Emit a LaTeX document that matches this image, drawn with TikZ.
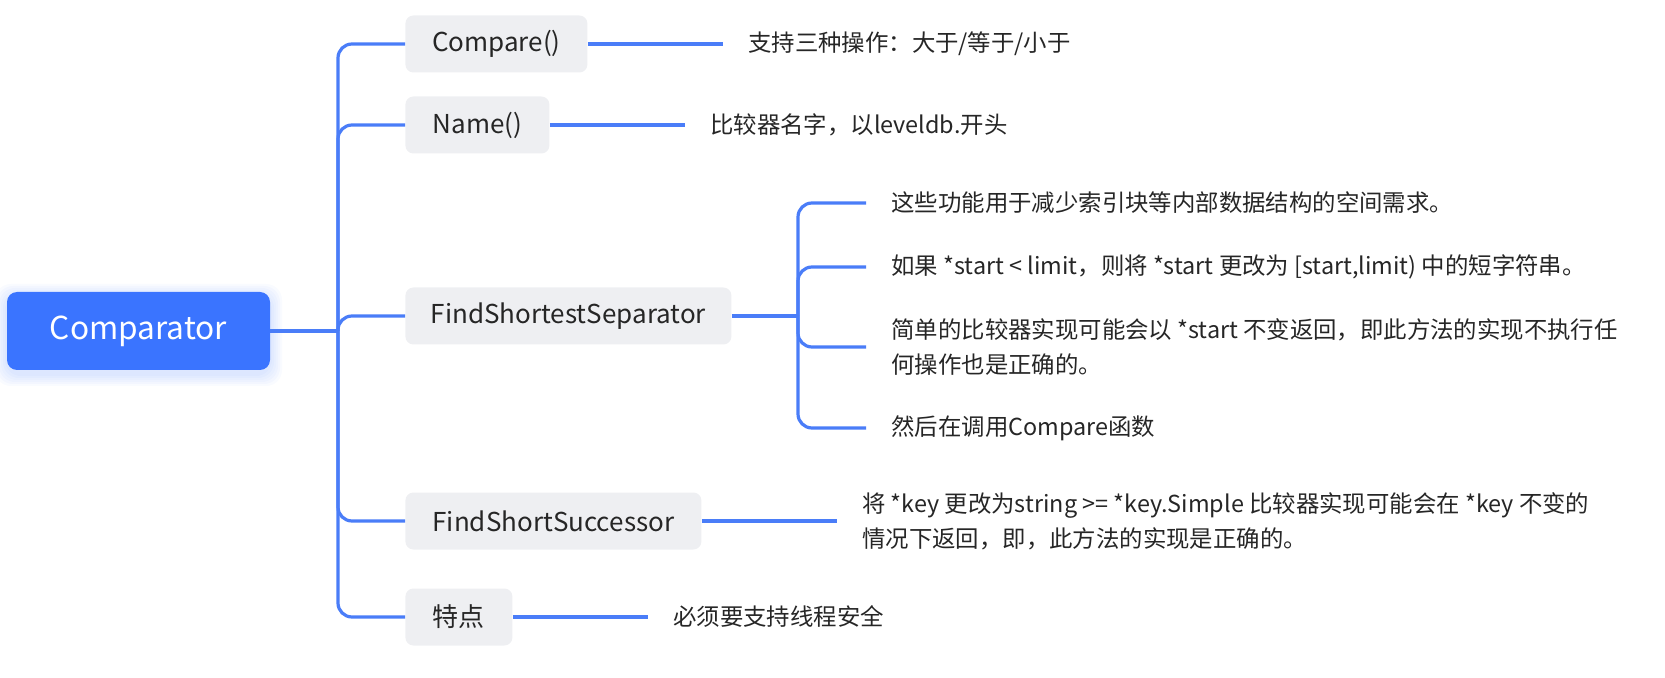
\documentclass[tikz,border=0pt]{standalone}
\usepackage{fontspec}
\setmainfont{Noto Sans CJK SC}
\usetikzlibrary{positioning}
\definecolor{mmblue}{HTML}{3A74FF}
\definecolor{mmline}{HTML}{4A7DF8}
\definecolor{mmgrey}{HTML}{EEEFF2}
\definecolor{mmtext}{HTML}{262626}
\tikzset{
  rootbox/.style = {fill=mmblue, rounded corners=5pt, text=white, minimum width=131.5pt,
                    minimum height=39pt, font=\fontsize{15.8}{19}\selectfont},
  topic/.style   = {fill=mmgrey, rounded corners=4pt, text=mmtext, minimum height=28.5pt,
                    inner xsep=8pt, anchor=west, font=\fontsize{13}{16}\selectfont},
  leaf/.style    = {anchor=west, text=mmtext, inner xsep=12.5pt, inner ysep=0pt, align=left,
                    font=\fontsize{11.7}{17.5}\selectfont},
  link/.style    = {draw=mmline, line width=1.6pt},
  branch/.style  = {link, rounded corners=7pt},
}
\begin{document}
\begin{tikzpicture}[x=0.5pt, y=-0.5pt]
  \useasboundingbox (0,0) rectangle (1665,678);
  % soft glow under the root
  \foreach \g in {1,...,6}
    \fill[mmblue, opacity=0.03, rounded corners=8pt] (7-2*\g,296-2*\g) rectangle (270+2*\g,374+2*\g);
  \node[rootbox] (root) at (138.5,331) {Comparator};
  \coordinate (fork) at (338,331);

  \node[topic, minimum width=91pt] (cmp) at (405,44) {Compare()};
  \node[topic, minimum width=72pt] (name) at (405,125) {Name()};
  \node[topic, minimum width=163pt] (sep) at (405,316) {FindShortestSeparator};
  \node[topic, minimum width=148pt] (succ) at (405,521) {FindShortSuccessor};
  \node[topic, minimum width=53.5pt] (feat) at (405,617) {特点};

  \node[leaf, right=67.5pt of cmp] (cmpnote) {支持三种操作：大于/等于/小于};
  \node[leaf, right=67.5pt of name] (namenote) {比较器名字，以leveldb.开头};
  \node[leaf, right=67.5pt of succ] (succnote)
    {将 *key 更改为string >= *key.Simple 比较器实现可能会在 *key 不变的\\情况下返回，即，此方法的实现是正确的。};
  \node[leaf, right=67.5pt of feat] (featnote) {必须要支持线程安全};

  \coordinate (sepfork) at (798,316);
  \node[leaf] (sep1) at (866,203) {这些功能用于减少索引块等内部数据结构的空间需求。};
  \node[leaf] (sep2) at (866,267) {如果 *start < limit，则将 *start 更改为 [start,limit) 中的短字符串。};
  \node[leaf] (sep3) at (866,347)
    {简单的比较器实现可能会以 *start 不变返回，即此方法的实现不执行任\\何操作也是正确的。};
  \node[leaf] (sep4) at (866,428) {然后在调用Compare函数};

  \draw[link] (root.east) -- (fork);
  \foreach \n in {cmp,name,sep,succ,feat}
    \draw[branch] (fork) |- (\n.west);
  \foreach \n in {cmp,name,succ,feat}
    \draw[link] (\n.east) -- (\n note.west);
  \draw[link] (sep.east) -- (sepfork);
  \foreach \n in {sep1,sep2,sep3,sep4}
    \draw[branch] (sepfork) |- (\n.west);
\end{tikzpicture}
\end{document}
